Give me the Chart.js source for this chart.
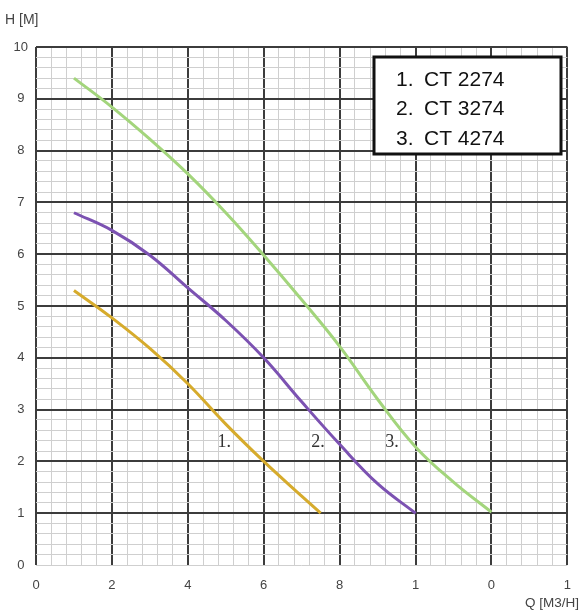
<!DOCTYPE html>
<html>
<head>
<meta charset="utf-8">
<script src="https://cdn.jsdelivr.net/npm/chart.js@4.4.1/dist/chart.umd.min.js"></script>
<style>
  html, body { margin: 0; padding: 0; background: #fff; }
  #wrap { width: 584px; height: 612px; }
</style>
</head>
<body>
<div id="wrap"><canvas id="pumpChart"></canvas></div>
<script>
// pump curves, Q [m3/h] vs H [m]
const seriesNums = ["1.", "2.", "3."];
const seriesNames = ["CT 2274", "CT 3274", "CT 4274"];
const tagX = [4.96, 7.43, 9.38];
const tagY = [2.36, 2.36, 2.36];

const q1 = [1, 2, 3, 4, 5, 6, 7, 7.5];
const h1 = [5.3, 4.77, 4.18, 3.5, 2.72, 2.0, 1.33, 1.0];

const q2 = [1, 2, 3, 4, 5, 6, 7, 8, 9, 10];
const h2 = [6.8, 6.46, 5.98, 5.35, 4.72, 4.0, 3.15, 2.33, 1.57, 1.0];

const q3 = [1, 2, 3, 4, 5, 6, 7, 8, 9, 10, 11, 12];
const h3 = [9.4, 8.84, 8.22, 7.55, 6.8, 5.98, 5.12, 4.22, 3.2, 2.28, 1.6, 1.02];

// x tick text as printed on the sheet (0..14 step 2)
const xTickValues = [0, 2, 4, 6, 8, 10, 12, 14];
const xTickText = ["0", "2", "4", "6", "8", "1", "0", "1"];
const yTickValues = [0, 1, 2, 3, 4, 5, 6, 7, 8, 9, 10];

const colors = ["#d6ab2c", "#7c52b2", "#a3d57c"];

function toPoints(xs, ys) {
  return xs.map((x, i) => ({ x: x, y: ys[i] }));
}

function near(v, step) {
  return Math.abs(v / step - Math.round(v / step)) < 1e-6;
}

const decorPlugin = {
  id: "decor",
  afterDatasetsDraw(chart) {
    const ctx = chart.ctx;
    const xs = chart.scales.x;
    const ys = chart.scales.y;
    ctx.save();

    // curve tags
    ctx.fillStyle = "#333";
    ctx.font = "18px 'Liberation Serif', 'DejaVu Serif', serif";
    ctx.textAlign = "center";
    ctx.textBaseline = "middle";
    seriesNums.forEach((t, i) => {
      ctx.fillText(t, xs.getPixelForValue(tagX[i]), ys.getPixelForValue(tagY[i]));
    });

    // legend box
    ctx.fillStyle = "#fff";
    ctx.fillRect(374, 57, 187, 97);
    ctx.strokeStyle = "#111";
    ctx.lineWidth = 3;
    ctx.strokeRect(374, 57, 187, 97);
    ctx.fillStyle = "#111";
    ctx.font = "21px 'Liberation Sans', Arial, sans-serif";
    ctx.textAlign = "left";
    seriesNames.forEach((s, i) => {
      const y = 80 + i * 29.5;
      ctx.fillText(seriesNums[i], 396, y);
      ctx.fillText(s, 424, y);
    });

    // axis titles
    ctx.fillStyle = "#444";
    ctx.font = "14px 'Liberation Sans', Arial, sans-serif";
    ctx.fillText("H [M]", 5, 20);
    ctx.textAlign = "right";
    ctx.font = "13.5px 'Liberation Sans', Arial, sans-serif";
    ctx.fillText("Q [M3/H]", 579, 603);
    ctx.restore();
  }
};

new Chart(document.getElementById("pumpChart").getContext("2d"), {
  type: "line",
  data: {
    datasets: [
      { label: seriesNames[0], data: toPoints(q1, h1), borderColor: colors[0] },
      { label: seriesNames[1], data: toPoints(q2, h2), borderColor: colors[1] },
      { label: seriesNames[2], data: toPoints(q3, h3), borderColor: colors[2] },
    ].map((d) => Object.assign(d, {
      borderWidth: 3,
      pointRadius: 0,
      fill: false,
      tension: 0.4,
    })),
  },
  plugins: [decorPlugin],
  options: {
    responsive: true,
    maintainAspectRatio: false,
    animation: false,
    layout: { padding: { top: 47, right: 12, left: 0, bottom: 0 } },
    plugins: {
      legend: { display: false },
      tooltip: { enabled: false },
    },
    scales: {
      x: {
        type: "linear",
        min: 0,
        max: 14,
        border: { display: false },
        afterFit(scale) { scale.height = 47; },
        ticks: {
          autoSkip: false,
          maxRotation: 0,
          padding: 13,
          color: "#444",
          font: { family: "'Liberation Sans', Arial, sans-serif", size: 13 },
          callback(v) {
            const i = xTickValues.findIndex((t) => Math.abs(t - v) < 1e-6);
            return i >= 0 ? xTickText[i] : "";
          },
        },
        afterBuildTicks(scale) {
          const t = [];
          for (let k = 0; k <= 35; k++) t.push({ value: Math.round(k * 0.4 * 10) / 10 });
          scale.ticks = t;
        },
        grid: {
          drawTicks: false,
          color(c) { return near(c.tick.value, 2) ? "#3c3c3c" : "#cfcfcf"; },
          lineWidth(c) { return near(c.tick.value, 2) ? 2 : 1; },
        },
      },
      y: {
        type: "linear",
        min: 0,
        max: 10,
        border: { display: false },
        afterFit(scale) { scale.width = 36; },
        afterBuildTicks(scale) {
          const t = [];
          for (let k = 0; k <= 50; k++) t.push({ value: Math.round(k * 0.2 * 10) / 10 });
          scale.ticks = t;
        },
        ticks: {
          autoSkip: false,
          crossAlign: "center",
          padding: 8,
          color: "#444",
          font: { family: "'Liberation Sans', Arial, sans-serif", size: 13 },
          callback(v) {
            return yTickValues.some((t) => Math.abs(t - v) < 1e-6) ? String(Math.round(v)) : "";
          },
        },
        grid: {
          drawTicks: false,
          color(c) {
            const v = c.tick.value;
            return near(v, 1) && v > 0 ? "#3c3c3c" : "#cfcfcf";
          },
          lineWidth(c) {
            const v = c.tick.value;
            return near(v, 1) && v > 0 ? 2 : 1;
          },
        },
      },
    },
  },
});
</script>
</body>
</html>
